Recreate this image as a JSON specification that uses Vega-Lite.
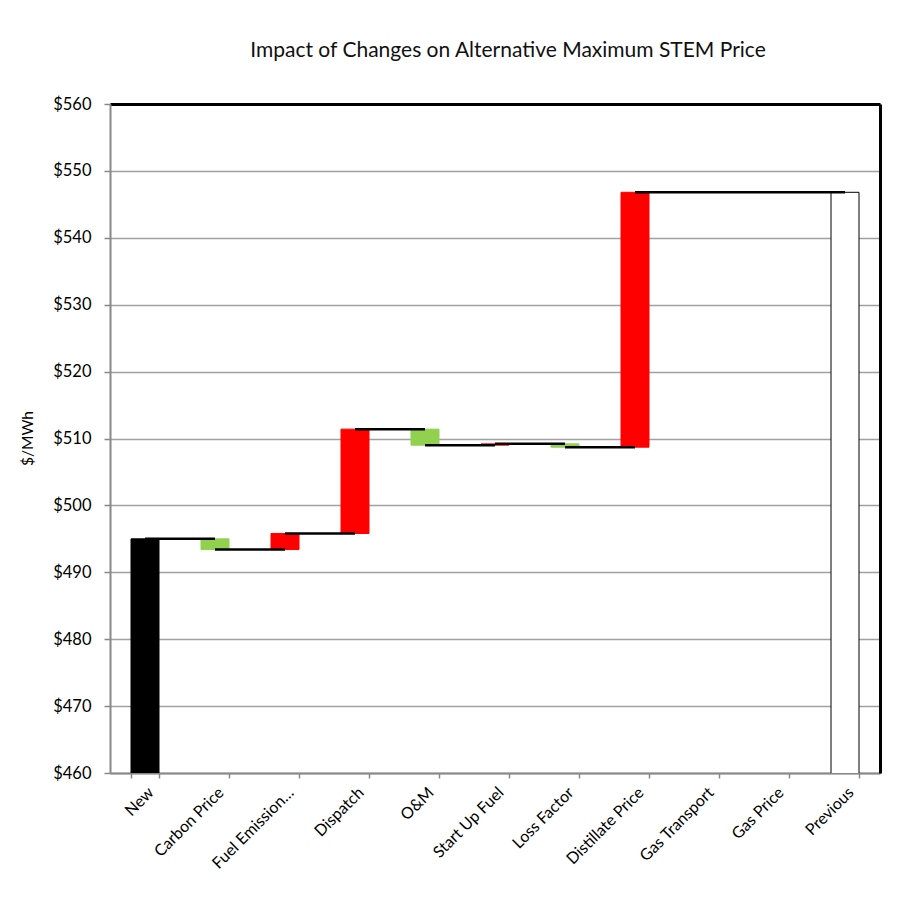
{
  "$schema": "https://vega.github.io/schema/vega-lite/v6.json",
  "autosize": "none",
  "width": 770,
  "height": 669,
  "padding": {"left": 110, "top": 104, "right": 17, "bottom": 124},
  "background": "white",
  "title": {
    "text": "Impact of Changes on Alternative Maximum STEM Price",
    "font": "Lato",
    "fontSize": 21,
    "fontWeight": "normal",
    "color": "#111111",
    "anchor": "middle",
    "frame": "group",
    "dx": 13,
    "baseline": "alphabetic",
    "offset": 18
  },
  "config": {
    "view": {"stroke": null},
    "font": "Lato"
  },
  "data": {
    "values": [
      {"cat": "New", "start": 0, "end": 495.0, "kind": "base", "next": "Carbon Price"},
      {"cat": "Carbon Price", "start": 495.0, "end": 493.4, "kind": "down", "next": "Fuel Emission…"},
      {"cat": "Fuel Emission…", "start": 493.4, "end": 495.8, "kind": "up", "next": "Dispatch"},
      {"cat": "Dispatch", "start": 495.8, "end": 511.4, "kind": "up", "next": "O&M"},
      {"cat": "O&M", "start": 511.4, "end": 509.0, "kind": "down", "next": "Start Up Fuel"},
      {"cat": "Start Up Fuel", "start": 509.0, "end": 509.2, "kind": "up", "next": "Loss Factor"},
      {"cat": "Loss Factor", "start": 509.2, "end": 508.7, "kind": "down", "next": "Distillate Price"},
      {"cat": "Distillate Price", "start": 508.7, "end": 546.8, "kind": "up", "next": "Gas Transport"},
      {"cat": "Gas Transport", "start": 546.8, "end": 546.8, "kind": "up", "next": "Gas Price"},
      {"cat": "Gas Price", "start": 546.8, "end": 546.8, "kind": "up", "next": "Previous"},
      {"cat": "Previous", "start": 0, "end": 546.8, "kind": "total", "next": null}
    ]
  },
  "resolve": {"axis": {"x": "independent", "y": "independent"}},
  "layer": [
    {
      "mark": {"type": "bar", "clip": true, "strokeWidth": 1},
      "encoding": {
        "x": {
          "field": "cat",
          "type": "nominal",
          "sort": null,
          "scale": {"paddingInner": 0.6, "paddingOuter": 0.3},
          "axis": {
            "title": null,
            "labelAngle": -45,
            "labelFontSize": 16,
            "labelColor": "black",
            "labelPadding": 6,
            "tickBand": "extent",
            "tickSize": 5,
            "tickColor": "#888888",
            "tickWidth": 1.5,
            "domainColor": "#888888",
            "domainWidth": 2,
            "grid": false
          }
        },
        "y": {
          "field": "end",
          "type": "quantitative",
          "scale": {"domain": [460, 560], "zero": false, "nice": false},
          "axis": {
            "title": "$/MWh",
            "titleFont": "Lato",
            "titleFontSize": 15.5,
            "titleFontWeight": "normal",
            "titleColor": "black",
            "titleX": -75,
            "titleY": 334,
            "values": [460, 470, 480, 490, 500, 510, 520, 530, 540, 550, 560],
            "labelExpr": "'$' + datum.value",
            "labelFontSize": 16.5,
            "labelColor": "black",
            "labelPadding": 13,
            "tickSize": 6,
            "tickColor": "#888888",
            "tickWidth": 1.5,
            "domainColor": "#888888",
            "domainWidth": 2,
            "gridColor": "#a0a0a0",
            "gridWidth": 1.5,
            "gridOpacity": 1
          }
        },
        "y2": {"field": "start"},
        "fill": {
          "field": "kind",
          "type": "nominal",
          "scale": {"domain": ["base", "down", "up", "total"], "range": ["#000000", "#92D050", "#FF0000", "#FFFFFF"]},
          "legend": null
        },
        "stroke": {
          "field": "kind",
          "type": "nominal",
          "scale": {"domain": ["base", "down", "up", "total"], "range": ["#000000", "#92D050", "#FF0000", "#000000"]},
          "legend": null
        }
      }
    },
    {
      "transform": [{"filter": "datum.next != null"}],
      "mark": {"type": "rule", "color": "black", "strokeWidth": 2.5},
      "encoding": {
        "x": {
          "field": "cat",
          "type": "nominal",
          "sort": null,
          "axis": {
            "orient": "top",
            "title": null,
            "labels": false,
            "ticks": false,
            "grid": false,
            "domainColor": "black",
            "domainWidth": 3
          }
        },
        "x2": {"field": "next"},
        "y": {
          "field": "end",
          "type": "quantitative",
          "axis": {
            "orient": "right",
            "title": null,
            "labels": false,
            "ticks": false,
            "grid": false,
            "domainColor": "black",
            "domainWidth": 3
          }
        }
      }
    }
  ]
}
